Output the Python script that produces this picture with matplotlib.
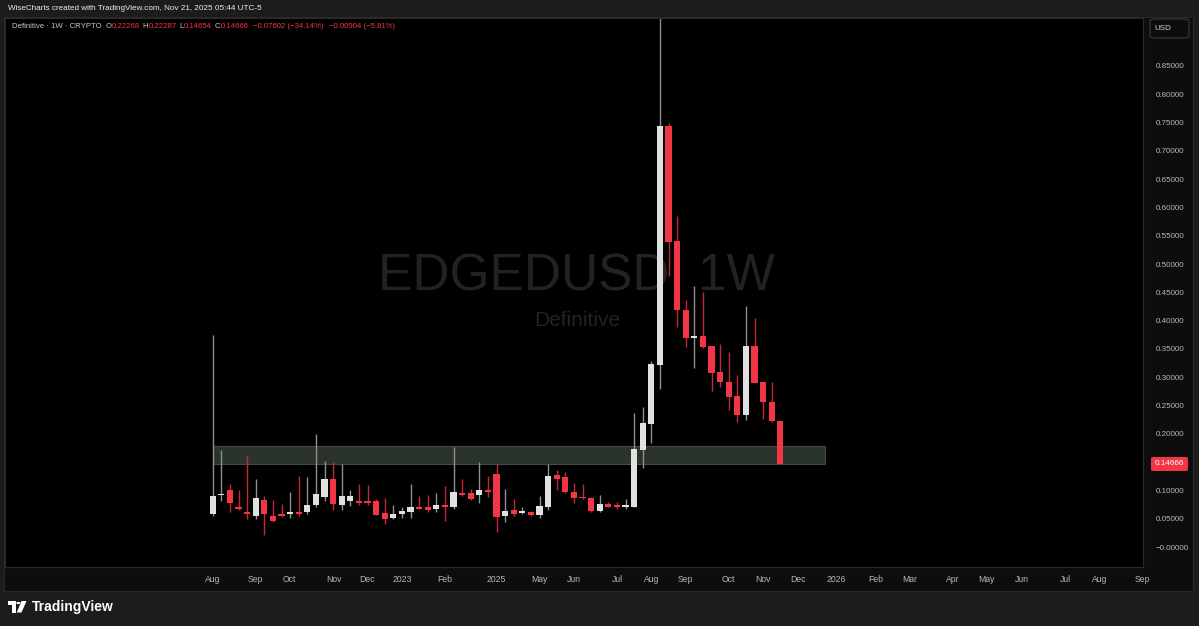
import matplotlib
matplotlib.use("Agg")
import matplotlib.pyplot as plt
from matplotlib.patches import Rectangle, Polygon, Circle, FancyBboxPatch
import numpy as np

plt.rcParams['font.family'] = ['Liberation Sans', 'DejaVu Sans']

# ---------------- data (weekly OHLC) ----------------
opens = [0.058, 0.091, 0.101, 0.071, 0.062, 0.055, 0.083, 0.055, 0.058, 0.059,
         0.062, 0.061, 0.074, 0.088, 0.121, 0.075, 0.081, 0.081, 0.081, 0.081,
         0.060, 0.052, 0.058, 0.061, 0.071, 0.070, 0.067, 0.074, 0.070, 0.096,
         0.096, 0.091, 0.101, 0.129, 0.054, 0.066, 0.060, 0.062, 0.057, 0.071,
         0.127, 0.123, 0.098, 0.089, 0.087, 0.064, 0.076, 0.073, 0.071, 0.071,
         0.171, 0.217, 0.322, 0.743, 0.541, 0.419, 0.369, 0.373, 0.355, 0.309,
         0.292, 0.266, 0.233, 0.356, 0.291, 0.256, 0.22268]
highs = [0.375, 0.171, 0.112, 0.101, 0.161, 0.121, 0.090, 0.083, 0.076, 0.098,
         0.125, 0.123, 0.200, 0.152, 0.151, 0.146, 0.100, 0.111, 0.110, 0.085,
         0.087, 0.075, 0.070, 0.111, 0.090, 0.091, 0.096, 0.108, 0.177, 0.121,
         0.102, 0.151, 0.125, 0.146, 0.102, 0.085, 0.071, 0.064, 0.090, 0.146,
         0.136, 0.132, 0.113, 0.111, 0.089, 0.092, 0.080, 0.079, 0.084, 0.236,
         0.247, 0.329, 0.960, 0.750, 0.585, 0.436, 0.462, 0.450, 0.356, 0.358,
         0.344, 0.304, 0.425, 0.404, 0.292, 0.292, 0.22287]
lows = [0.055, 0.081, 0.062, 0.065, 0.050, 0.050, 0.021, 0.045, 0.053, 0.052,
        0.055, 0.059, 0.071, 0.082, 0.065, 0.065, 0.073, 0.074, 0.075, 0.056,
        0.041, 0.049, 0.051, 0.052, 0.067, 0.061, 0.061, 0.046, 0.068, 0.090,
        0.083, 0.077, 0.089, 0.027, 0.044, 0.055, 0.058, 0.055, 0.051, 0.065,
        0.101, 0.095, 0.077, 0.085, 0.062, 0.062, 0.070, 0.067, 0.067, 0.070,
        0.139, 0.183, 0.280, 0.478, 0.389, 0.354, 0.317, 0.351, 0.276, 0.283,
        0.242, 0.221, 0.224, 0.289, 0.226, 0.221, 0.14654]
closes = [0.090, 0.094, 0.078, 0.068, 0.059, 0.087, 0.059, 0.046, 0.054, 0.062,
          0.059, 0.074, 0.093, 0.121, 0.076, 0.090, 0.090, 0.078, 0.077, 0.057,
          0.050, 0.058, 0.064, 0.070, 0.068, 0.065, 0.075, 0.070, 0.098, 0.091,
          0.085, 0.101, 0.098, 0.053, 0.064, 0.059, 0.063, 0.056, 0.072, 0.126,
          0.120, 0.097, 0.086, 0.086, 0.064, 0.076, 0.071, 0.071, 0.073, 0.173,
          0.219, 0.323, 0.744, 0.539, 0.418, 0.369, 0.373, 0.354, 0.308, 0.291,
          0.265, 0.233, 0.356, 0.290, 0.256, 0.2227, 0.14666]

# x tick labels and their positions in weeks from the first candle
xtick_labels = ["Aug", "Sep", "Oct", "Nov", "Dec", "2023", "Feb", "2025", "May",
                "Jun", "Jul", "Aug", "Sep", "Oct", "Nov", "Dec", "2026", "Feb",
                "Mar", "Apr", "May", "Jun", "Jul", "Aug", "Sep"]
xtick_weeks = [0.0, 4.95, 8.95, 14.05, 18.0, 22.0, 27.0, 33.0, 38.0,
               42.05, 47.05, 51.0, 55.0, 60.0, 64.0, 68.05, 72.5, 77.1,
               81.0, 86.1, 90.0, 94.1, 99.1, 103.1, 108.1]
# price ticks (0.15 is hidden by the last-price badge)
ytick_values = [0.0, 0.05, 0.10, 0.20, 0.25, 0.30, 0.35, 0.40, 0.45,
                0.50, 0.55, 0.60, 0.65, 0.70, 0.75, 0.80, 0.85]
zone_low, zone_high = 0.1466, 0.1784
zone_start, zone_end = 0, 71.2
last_price = 0.14666

# ---------------- figure layout ----------------
W, H = 1199, 626
fig = plt.figure(figsize=(W / 100, H / 100), dpi=100, facecolor='#1c1c1c')

def fx(px):
    return px / W

def fy(py):
    return 1 - py / H

# dark chart frame (pane + axes strips)
fig.add_artist(Rectangle((fx(4), fy(591)), fx(1193) - fx(4), fy(17) - fy(591),
                         transform=fig.transFigure, facecolor='#0d0d0d',
                         edgecolor='#2a2a2a', lw=0.8, zorder=0))

pane_l, pane_r, pane_t, pane_b = 5, 1143, 18, 567
ax = fig.add_axes([fx(pane_l), fy(pane_b), fx(pane_r) - fx(pane_l), fy(pane_t) - fy(pane_b)])
ax.set_facecolor('#000000')

x0_px, step_px = 212.7, 8.6
ax.set_xlim((pane_l - x0_px) / step_px, (pane_r - x0_px) / step_px)
ax.set_ylim((547 - pane_b) / 566, (547 - pane_t) / 566)

for s in ax.spines.values():
    s.set_color('#2a2a2a')
    s.set_linewidth(0.8)

up_body, dn_body = '#e0e0e0', '#f23645'
up_wick, dn_wick = '#8f8f8f', '#c22a39'

n = len(opens)
xs = np.arange(n)
o = np.array(opens); c = np.array(closes); h = np.array(highs); l = np.array(lows)
up = c >= o

# zone
ax.add_patch(Rectangle((zone_start, zone_low), zone_end - zone_start, zone_high - zone_low,
                       facecolor='#2e372e', edgecolor='#454f45', lw=0.8, zorder=1, alpha=0.95))

# watermark
wm_x = (577 - x0_px) / step_px
ax.text(wm_x, (547 - 277) / 566, "EDGEDUSD, 1W", ha='center', va='center',
        fontsize=37, color='#222222', zorder=0.5)
ax.text(wm_x, (547 - 320) / 566, "Definitive", ha='center', va='center',
        fontsize=15, color='#222222', zorder=0.5)

# wicks
ax.vlines(xs[up], l[up], h[up], color=up_wick, lw=1.0, zorder=2)
ax.vlines(xs[~up], l[~up], h[~up], color=dn_wick, lw=1.0, zorder=2)
# bodies
bot = np.minimum(o, c)
hgt = np.maximum(np.abs(c - o), 0.0028)
ax.bar(xs[up], hgt[up], bottom=bot[up], width=0.72, color=up_body, lw=0, zorder=3)
ax.bar(xs[~up], hgt[~up], bottom=bot[~up], width=0.72, color=dn_body, lw=0, zorder=3)

# axes ticks
ax.yaxis.tick_right()
ax.set_yticks(ytick_values)
ax.set_yticklabels(["\u22120.00000" if v == 0 else f"{v:.5f}" for v in ytick_values])
ax.tick_params(axis='y', length=0, pad=9, labelsize=5.8, labelcolor='#b8b8b8')
ax.set_xticks(xtick_weeks)
ax.set_xticklabels(xtick_labels)
ax.tick_params(axis='x', length=0, pad=6, labelsize=6.2, labelcolor='#b8b8b8')

# last price label
ly = fy(547 - last_price * 566)
fig.add_artist(FancyBboxPatch((fx(1151), ly - 7 / H), fx(37), 14 / H,
                              boxstyle="round,pad=0,rounding_size=0.002",
                              transform=fig.transFigure, facecolor='#f23645', lw=0, zorder=5))
fig.text(fx(1169.5), ly, "0.14666", color='white', fontsize=5.9, ha='center', va='center', zorder=6)

# USD box
fig.add_artist(FancyBboxPatch((fx(1150), fy(38)), fx(39), 19 / H,
                              boxstyle="round,pad=0,rounding_size=0.004",
                              transform=fig.transFigure, facecolor='#0d0d0d',
                              edgecolor='#3a3a3a', lw=0.8, zorder=5))
fig.text(fx(1163), fy(29), "USD", color='#d0d0d0', fontsize=5.8, ha='center', va='center', zorder=6)

# header
fig.text(fx(8), fy(9), "WiseCharts created with TradingView.com, Nov 21, 2025 05:44 UTC-5",
         color='#ececec', fontsize=5.9, ha='left', va='center')

renderer = fig.canvas.get_renderer()
grey, red = '#c8c8c8', '#f23645'
parts = [("Definitive \u00b7 1W \u00b7 CRYPTO", grey, 4), ("O", grey, 0), ("0.22268", red, 3),
         ("H", grey, 0), ("0.22287", red, 3), ("L", grey, 0), ("0.14654", red, 3),
         ("C", grey, 0), ("0.14666", red, 5), ("\u22120.07602 (\u221234.14%)", red, 5),
         ("\u22120.00904 (\u22125.81%)", red, 0)]
cx = 12
for s, col, gap in parts:
    t = fig.text(fx(cx), fy(27), s, color=col, fontsize=5.6, ha='left', va='center')
    bb = t.get_window_extent(renderer)
    cx += bb.width + gap

# TradingView logo
def poly(pts, **kw):
    fig.add_artist(Polygon([(fx(a), fy(b)) for a, b in pts], closed=True,
                           transform=fig.transFigure, **kw))
poly([(8, 601), (16, 601), (16, 612.5), (12, 612.5), (12, 605), (8, 605)], facecolor='white', lw=0)
fig.add_artist(Circle((fx(18.3), fy(603)), 2.1 / W, transform=fig.transFigure,
                      facecolor='white', lw=0))
poly([(21.5, 601), (26.5, 601), (21.5, 612.5), (16.7, 612.5)], facecolor='white', lw=0)
fig.text(fx(31.5), fy(606.5), "TradingView", color='white', fontsize=10.0,
         fontweight='bold', ha='left', va='center')

fig.savefig("out.png", dpi=100, facecolor=fig.get_facecolor())
